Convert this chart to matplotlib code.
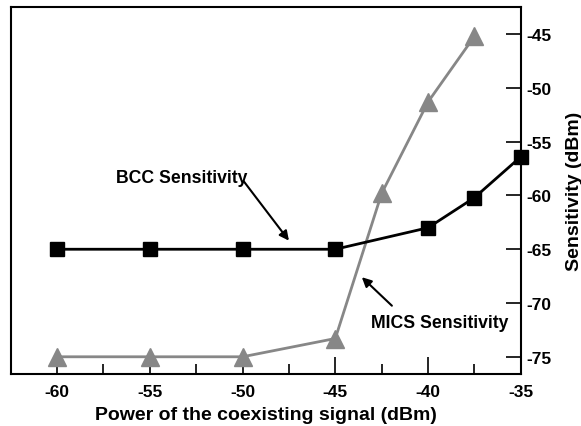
import numpy as np
import matplotlib
matplotlib.use('Agg')
import matplotlib.pyplot as plt
from matplotlib.ticker import MultipleLocator

plt.rcParams['font.family'] = ['Liberation Sans', 'DejaVu Sans']
plt.rcParams['font.weight'] = 'bold'
plt.rcParams['axes.unicode_minus'] = False

# data
bcc_x = [-60, -55, -50, -45, -40, -37.5, -35]
bcc_y = [-65, -65, -65, -65, -63.0, -60.2, -56.4]
mics_x = [-60, -55, -50, -45, -42.5, -40, -37.5]
mics_y = [-75, -75, -75, -73.3, -59.8, -51.3, -45.2]
x_ticks = [-60, -55, -50, -45, -40, -35]
y_ticks = [-75, -70, -65, -60, -55, -50, -45]

fig = plt.figure(figsize=(5.81, 4.27), dpi=100)
ax = fig.add_axes([0.0184, 0.1218, 0.878, 0.8588])

ax.plot(mics_x, mics_y, color='#878787', lw=2, marker='^', ms=12.5, zorder=2)
ax.plot(bcc_x, bcc_y, color='black', lw=2, marker='s', ms=10.5, zorder=3,
        clip_on=False)

ax.set_xlim(-62.5, -35)
ax.set_ylim(-76.6, -42.5)
ax.set_xticks(x_ticks)
ax.set_yticks(y_ticks)
ax.xaxis.set_minor_locator(MultipleLocator(2.5))

ax.yaxis.tick_right()
ax.yaxis.set_label_position('right')
ax.tick_params(axis='x', which='major', direction='in', length=12, width=1.2,
               labelsize=12.5, pad=7, top=False)
ax.tick_params(axis='x', which='minor', direction='in', length=7, width=1.2,
               top=False)
ax.tick_params(axis='y', direction='in', length=11, width=1.2, labelsize=12.5,
               pad=4, left=False, right=True)
for lbl in ax.get_xticklabels() + ax.get_yticklabels():
    lbl.set_fontweight('bold')
for sp in ax.spines.values():
    sp.set_linewidth(1.5)

ax.set_xlabel('Power of the coexisting signal (dBm)', fontsize=14,
              fontweight='bold', labelpad=5)
ax.set_ylabel('Sensitivity (dBm)', fontsize=14, fontweight='bold',
              labelpad=10)

ax.annotate('', xy=(-47.5, -64.2), xytext=(-49.95, -58.65),
            arrowprops=dict(arrowstyle='-|>', color='black', lw=1.5,
                            mutation_scale=14, shrinkA=0, shrinkB=0))
ax.text(-53.3, -58.3, 'BCC Sensitivity', ha='center', va='center',
        fontsize=12.7, fontweight='bold')
ax.annotate('', xy=(-43.57, -67.6), xytext=(-41.95, -70.25),
            arrowprops=dict(arrowstyle='-|>', color='black', lw=1.5,
                            mutation_scale=14, shrinkA=0, shrinkB=0))
ax.text(-39.35, -71.8, 'MICS Sensitivity', ha='center', va='center',
        fontsize=12.7, fontweight='bold')

fig.savefig('out.png', dpi=100)
